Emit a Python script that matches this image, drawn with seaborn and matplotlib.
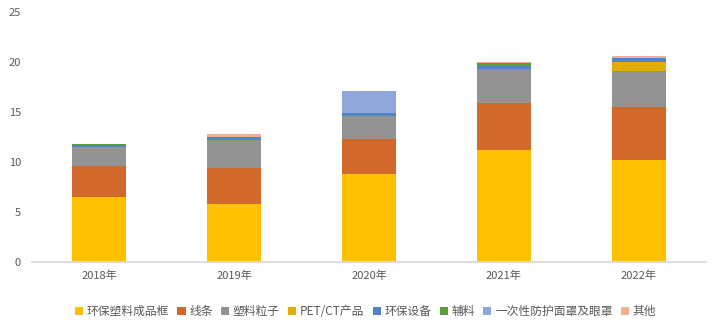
import matplotlib
matplotlib.use("Agg")
import matplotlib.pyplot as plt
import seaborn as sns
import pandas as pd
import numpy as np

years = ["2018年", "2019年", "2020年", "2021年", "2022年"]
series_names = ["环保塑料成品框", "线条", "塑料粒子", "PET/CT产品", "环保设备", "辅料", "一次性防护面罩及眼罩", "其他"]
s_frame = [6.5, 5.8, 8.8, 11.2, 10.2]
s_line = [3.1, 3.6, 3.5, 4.7, 5.3]
s_pellet = [1.9, 2.8, 2.3, 3.4, 3.6]
s_pet = [0.0, 0.0, 0.0, 0.05, 0.9]
s_equip = [0.2, 0.3, 0.3, 0.3, 0.4]
s_aux = [0.1, 0.0, 0.05, 0.3, 0.0]
s_mask = [0.0, 0.0, 2.1, 0.0, 0.0]
s_other = [0.05, 0.3, 0.05, 0.05, 0.2]
colors = ["#FFC000", "#D2692A", "#939393", "#E5AC00", "#4F86C1", "#5A9E3E", "#8FA6DA", "#F2AE94"]

values = [s_frame, s_line, s_pellet, s_pet, s_equip, s_aux, s_mask, s_other]

sns.set_theme(style="white")
plt.rcParams['font.family'] = ['Noto Sans CJK SC', 'DejaVu Sans']

fig = plt.figure(figsize=(7.21, 3.32), dpi=100)
ax = fig.add_axes([32/721, 1-262/332, (706-32)/721, (262-12)/332])

bottom = np.zeros(len(years))
for name, vals, c in zip(series_names, values, colors):
    df = pd.DataFrame({"year": years, "v": vals})
    sns.barplot(data=df, x="year", y="v", color=c, bottom=bottom, width=0.4,
                ax=ax, label=name, saturation=1, linewidth=0)
    bottom = bottom + np.array(vals)

ax.set_ylim(0, 25)
ax.set_yticks([0, 5, 10, 15, 20, 25])
ax.set_xlabel("")
ax.set_ylabel("")
for s in ["top", "right", "left"]:
    ax.spines[s].set_visible(False)
ax.spines["bottom"].set_color("#D9D9D9")
ax.tick_params(axis="both", colors="#595959", labelsize=8, length=0)
ax.tick_params(axis="x", pad=6)
ax.tick_params(axis="y", pad=8)

ax.legend(loc="upper center", bbox_to_anchor=(0.495, -0.13), ncol=8, frameon=False,
          fontsize=8.5, handlelength=0.7, handleheight=0.7, handletextpad=0.3,
          columnspacing=0.7, labelcolor="#595959")

fig.savefig("out.png", dpi=100)
